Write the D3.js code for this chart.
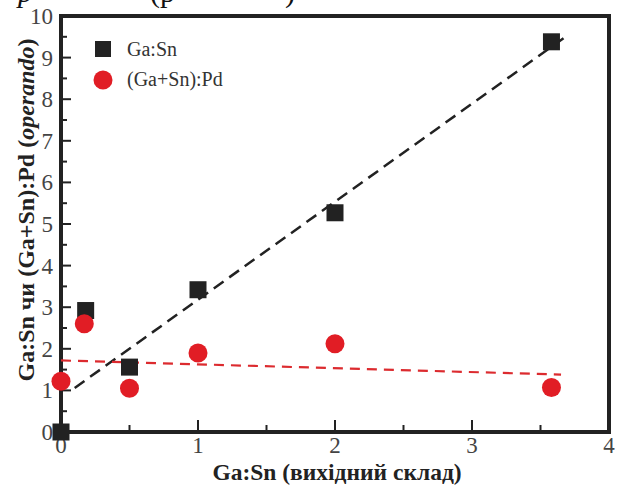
<!DOCTYPE html>
<html>
<head>
<meta charset="utf-8">
<script src="https://cdn.jsdelivr.net/npm/d3@7"></script>
<style>
  body { margin: 0; background: #fff; }
  svg { display: block; }
</style>
</head>
<body>
<div id="chart"></div>
<script>
// Ga:Sn (operando) vs starting composition
const gaSnX = [0, 0.18, 0.5, 1.0, 2.0, 3.58];
const gaSnY = [0, 2.92, 1.56, 3.42, 5.27, 9.38];
// (Ga+Sn):Pd
const pdX = [0, 0.17, 0.5, 1.0, 2.0, 3.58];
const pdY = [1.22, 2.6, 1.05, 1.9, 2.12, 1.07];
// dashed fit lines, end points
const blackFitX = [0.1, 3.67];
const blackFitY = [1.06, 9.47];
const redFitX = [0, 3.65];
const redFitY = [1.72, 1.38];
const xTicks = [0, 1, 2, 3, 4];
const yTicks = [0, 1, 2, 3, 4, 5, 6, 7, 8, 9, 10];
const legendLabels = ['Ga:Sn', '(Ga+Sn):Pd'];

const width = 624, height = 485;
const margin = { top: 16, right: 15, bottom: 53, left: 61 };
const serif = "'Liberation Serif', 'Times New Roman', Times, serif";

const svg = d3.select('#chart').append('svg')
    .attr('width', width)
    .attr('height', height)
    .attr('font-family', serif);

const x = d3.scaleLinear().domain([0, 4]).range([margin.left, width - margin.right]);
const y = d3.scaleLinear().domain([0, 10]).range([height - margin.bottom, margin.top]);

const ink = '#222';

// clipped caption text from above
svg.append('text').attr('x', 18).attr('y', 2)
    .attr('font-size', 30).attr('font-style', 'italic').attr('fill', '#111').text('p');
svg.append('text').attr('x', 150).attr('y', 2)
    .attr('font-size', 30).attr('fill', '#111').text('(p');
svg.append('text').attr('x', 285).attr('y', 2)
    .attr('font-size', 30).attr('fill', '#111').text(')');

// ticks (inward)
const tickG = svg.append('g').attr('stroke', ink).attr('stroke-width', 2);
d3.range(0, 4.01, 0.5).forEach(v => {
    const major = Math.abs(v - Math.round(v)) < 1e-6;
    tickG.append('line')
        .attr('x1', x(v)).attr('x2', x(v))
        .attr('y1', y(0)).attr('y2', y(0) - (major ? 12 : 7));
});
d3.range(0, 10.01, 0.5).forEach(v => {
    const major = Math.abs(v - Math.round(v)) < 1e-6;
    tickG.append('line')
        .attr('x1', x(0)).attr('x2', x(0) + (major ? 10 : 6))
        .attr('y1', y(v)).attr('y2', y(v));
});

// frame
svg.append('rect')
    .attr('x', x(0)).attr('y', y(10))
    .attr('width', x(4) - x(0)).attr('height', y(0) - y(10))
    .attr('fill', 'none').attr('stroke', ink).attr('stroke-width', 4);

// tick labels
svg.append('g').selectAll('text').data(xTicks).join('text')
    .attr('x', d => x(d)).attr('y', y(0) + 21)
    .attr('text-anchor', 'middle').attr('font-size', 23).attr('fill', '#444')
    .text(d => d);
svg.append('g').selectAll('text').data(yTicks).join('text')
    .attr('x', x(0) - 8).attr('y', d => y(d) + 8)
    .attr('text-anchor', 'end').attr('font-size', 23).attr('fill', '#444')
    .text(d => d);

// axis titles
svg.append('text')
    .attr('x', 337).attr('y', 480)
    .attr('text-anchor', 'middle').attr('font-size', 23.5).attr('font-weight', 'bold').attr('fill', '#222')
    .text('Ga:Sn (вихідний склад)');

const yTitle = svg.append('text')
    .attr('transform', `translate(34,210) rotate(-90)`)
    .attr('text-anchor', 'middle').attr('font-size', 24).attr('font-weight', 'bold').attr('fill', '#222');
yTitle.append('tspan').text('Ga:Sn чи (Ga+Sn):Pd (');
yTitle.append('tspan').attr('font-style', 'italic').text('operando');
yTitle.append('tspan').text(')');

// fit lines
const line = d3.line().x(d => x(d[0])).y(d => y(d[1]));
svg.append('path')
    .attr('d', line(d3.zip(blackFitX, blackFitY)))
    .attr('fill', 'none').attr('stroke', '#222').attr('stroke-width', 2.5)
    .attr('stroke-dasharray', '12,7');
svg.append('path')
    .attr('d', line(d3.zip(redFitX, redFitY)))
    .attr('fill', 'none').attr('stroke', '#dc2b2f').attr('stroke-width', 2.2)
    .attr('stroke-dasharray', '10,7');

// markers
const sq = 17;
svg.append('g').selectAll('rect').data(d3.zip(gaSnX, gaSnY)).join('rect')
    .attr('x', d => x(d[0]) - sq / 2).attr('y', d => y(d[1]) - sq / 2)
    .attr('width', sq).attr('height', sq)
    .attr('fill', '#222');
svg.append('g').selectAll('circle').data(d3.zip(pdX, pdY)).join('circle')
    .attr('cx', d => x(d[0])).attr('cy', d => y(d[1])).attr('r', 9.5)
    .attr('fill', '#e11d25');

// legend
const legend = svg.append('g');
legend.append('rect').attr('x', 95).attr('y', 41).attr('width', 16).attr('height', 16).attr('fill', '#222');
legend.append('circle').attr('cx', 103).attr('cy', 80).attr('r', 9.5).attr('fill', '#e11d25');
legend.selectAll('text').data(legendLabels).join('text')
    .attr('x', 127).attr('y', (d, i) => 56 + i * 30)
    .attr('font-size', 20).attr('fill', '#333')
    .text(d => d);
</script>
</body>
</html>
